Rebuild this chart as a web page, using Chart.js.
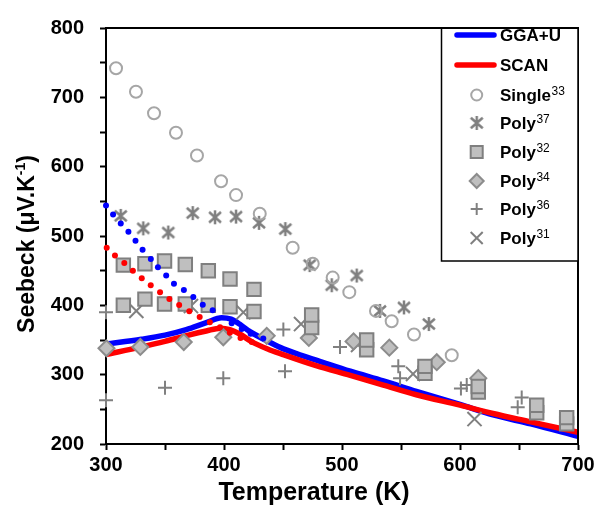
<!DOCTYPE html>
<html>
<head>
<meta charset="utf-8">
<script src="https://cdn.jsdelivr.net/npm/chart.js@4.4.1/dist/chart.umd.min.js"></script>
<style>
  html, body { margin: 0; padding: 0; background: #fff; }
</style>
</head>
<body>
<canvas id="seebeckChart" width="599" height="507"></canvas>
<script>
/* ---------- calculated curves ---------- */
const ggaT = [300, 330, 350, 368, 385, 398, 406, 414, 422, 435, 448, 462, 480, 507, 535, 563, 600, 628, 660, 700];
const ggaS = [344, 351, 357, 365, 375, 382, 380, 372, 362, 350, 339, 330, 320, 305, 291, 276, 257, 242, 229, 211];

const scanT = [300, 330, 350, 370, 385, 397, 405, 413, 423, 437, 450, 478, 507, 535, 563, 600, 628, 660, 700];
const scanS = [329, 340, 348, 357, 363, 367, 365, 359, 348, 337, 329, 313, 299, 285, 271, 256, 244, 232, 217];

// dotted branches
const ggaDotT = [300, 306, 312.5, 319, 325, 331, 338, 344, 351, 357.6, 366, 374, 382, 390.4, 406.5, 415, 422.6, 433.3];
const ggaDotS = [544, 531, 518, 506, 493, 480, 467, 455, 443, 431, 422, 412, 401, 393, 374, 366, 359, 352];

const scanDotT = [300.6, 307.6, 315.5, 322.8, 330.3, 337.9, 345.8, 353.7, 362, 370.6, 379.4, 388, 396.6, 405, 414, 423.5];
const scanDotS = [483, 472, 461, 450, 439, 429, 419, 409, 400.5, 391.5, 383, 375.5, 368.5, 360.5, 353, 347];

/* ---------- experimental data ---------- */
const single33T = [308.5, 325.4, 340.7, 359.3, 377.1, 397.5, 410.2, 430.3, 458.2, 475.2, 492.1, 506.2, 528.8, 542.1, 561, 593];
const single33S = [742, 708, 677, 649, 616, 579, 559, 532, 483, 460, 440, 419, 392, 377, 358, 328];

const poly37T = [312.5, 331.6, 352.8, 373.5, 392.4, 410.2, 429.7, 452, 472.6, 491.3, 512.5, 532.2, 552.5, 573.6];
const poly37S = [529, 511, 505, 533, 527, 528, 519, 510, 458, 429, 443, 392, 397, 373];

const poly32T  = [314.7, 333, 349.6, 367.2, 386.7, 405.1, 425.4, 474.3, 520.9, 570.3, 615.5, 665, 690.4];
const poly32aS = [458, 460, 464, 459, 450, 438, 423, 386, 350, 312, 283, 256, 238];
const poly32bS = [400, 409, 402, 402, 400, 398, 391, 368, 336, 302, 275, 245, 229];

const poly34T = [300.4, 329.1, 365.9, 399.4, 436.2, 471.9, 509.8, 540.1, 580.3, 615.5];
const poly34S = [338, 340, 347, 354, 356, 353, 348, 339, 318, 295];

const poly36T = [300, 300, 350, 350, 399.4, 450.3, 451.7, 498.3, 547.7, 549.2, 600.8, 605.7, 652.3, 648.9];
const poly36S = [390, 263, 281, 402, 295, 365, 305, 340, 312, 295, 280, 285, 267, 253];

const poly31T = [325.7, 372, 416.4, 465.3, 513.6, 560.2, 612.3];
const poly31S = [392, 399, 390, 373, 343, 301, 236];

/* ---------- axes ---------- */
const xMin = 300, xMax = 700, xStep = 50;
const yMin = 200, yMax = 800, yStep = 50;

const FONT = "'Liberation Sans', Arial, sans-serif";
const zip = (xs, ys) => xs.map((x, i) => ({ x, y: ys[i] }));

// Excel style asterisk: an X with a vertical bar
function makeAsterisk(size, color, lw) {
  const c = document.createElement('canvas');
  c.width = c.height = size;
  const g = c.getContext('2d');
  const m = size / 2, r = size / 2 - 2;
  g.strokeStyle = color;
  g.lineWidth = lw;
  g.beginPath();
  g.moveTo(m, m - r); g.lineTo(m, m + r);
  g.moveTo(m - r * 0.85, m - r * 0.75); g.lineTo(m + r * 0.85, m + r * 0.75);
  g.moveTo(m + r * 0.85, m - r * 0.75); g.lineTo(m - r * 0.85, m + r * 0.75);
  g.stroke();
  return c;
}
const asterisk = makeAsterisk(18, '#7F7F7F', 2.5);

const MARK = {
  single: { pointStyle: 'circle', radius: 6, bg: 'rgba(0,0,0,0)', border: '#A6A6A6', bw: 2 },
  p37:    { pointStyle: asterisk, radius: 8, bg: '#7F7F7F', border: '#7F7F7F', bw: 2 },
  p32:    { pointStyle: 'rect', radius: 9.5, bg: '#BFBFBF', border: '#7F7F7F', bw: 2 },
  p34:    { pointStyle: 'rectRot', radius: 8, bg: '#BFBFBF', border: '#8C8C8C', bw: 2 },
  p36:    { pointStyle: 'cross', radius: 7, bg: '#808080', border: '#808080', bw: 2 },
  p31:    { pointStyle: 'crossRot', radius: 10, bg: '#808080', border: '#808080', bw: 2 },
};

function markerSet(label, T, S, m, order) {
  return {
    label, data: zip(T, S), showLine: false, order, clip: false,
    pointStyle: m.pointStyle, pointRadius: m.radius, pointHoverRadius: m.radius,
    pointBackgroundColor: m.bg, pointBorderColor: m.border, pointBorderWidth: m.bw,
  };
}
function curveSet(label, T, S, color, order) {
  return {
    label, data: zip(T, S), showLine: true, order, clip: false,
    borderColor: color, borderWidth: 5.5, pointRadius: 0,
    cubicInterpolationMode: 'monotone', fill: false,
  };
}
function dotSet(label, T, S, color, order) {
  return {
    label, data: zip(T, S), showLine: false, order, clip: false,
    pointStyle: 'circle', pointRadius: 3, pointBackgroundColor: color,
    pointBorderColor: color, pointBorderWidth: 0,
  };
}

/* ---------- text helpers ---------- */
// parts: [text, size, weight, rise]
function drawRich(ctx, parts, cx, baseY) {
  let total = 0;
  const widths = parts.map(p => {
    ctx.font = `${p[2]} ${p[1]}px ${FONT}`;
    const w = ctx.measureText(p[0]).width;
    total += w;
    return w;
  });
  let x = cx - total / 2;
  ctx.textAlign = 'left';
  ctx.textBaseline = 'alphabetic';
  parts.forEach((p, i) => {
    ctx.font = `${p[2]} ${p[1]}px ${FONT}`;
    ctx.fillText(p[0], x, baseY - p[3]);
    x += widths[i];
  });
}

/* ---------- frame, titles, legend ---------- */
const legendRows = [
  { kind: 'line', color: '#0000FF', name: 'GGA+U', sup: '' },
  { kind: 'line', color: '#FF0000', name: 'SCAN', sup: '' },
  { kind: 'mark', m: MARK.single, r: 5.5, name: 'Single', sup: '33' },
  { kind: 'mark', m: MARK.p37, r: 8, name: 'Poly', sup: '37' },
  { kind: 'mark', m: MARK.p32, r: 8.5, name: 'Poly', sup: '32' },
  { kind: 'mark', m: MARK.p34, r: 7, name: 'Poly', sup: '34' },
  { kind: 'mark', m: MARK.p36, r: 6, name: 'Poly', sup: '36' },
  { kind: 'mark', m: MARK.p31, r: 8.5, name: 'Poly', sup: '31' },
];

const decorations = {
  id: 'decorations',
  afterDraw(chart) {
    const ctx = chart.ctx;
    const a = chart.chartArea;
    ctx.save();

    // top and right edges of the plot box
    ctx.strokeStyle = '#000';
    ctx.lineWidth = 2;
    ctx.beginPath();
    ctx.moveTo(a.left, a.top);
    ctx.lineTo(a.right, a.top);
    ctx.lineTo(a.right, a.bottom);
    ctx.stroke();

    // axis titles
    ctx.fillStyle = '#000';
    drawRich(ctx, [['Temperature (K)', 25, 'bold', 0]], 314, 500);
    ctx.save();
    ctx.translate(33.5, 244);
    ctx.rotate(-Math.PI / 2);
    drawRich(ctx, [['Seebeck (\u03bcV.K', 23, 'bold', 0], ['-1', 14, 'bold', 9], [')', 23, 'bold', 0]], 0, 0);
    ctx.restore();

    // legend box
    const lx = 441.5, ly = a.top, lw = a.right - lx, lh = 233;
    ctx.fillStyle = '#fff';
    ctx.fillRect(lx, ly, lw, lh);
    ctx.strokeStyle = '#000';
    ctx.lineWidth = 1.5;
    ctx.strokeRect(lx, ly, lw, lh);
    ctx.lineWidth = 2;
    ctx.beginPath();
    ctx.moveTo(lx, ly); ctx.lineTo(a.right, ly);
    ctx.stroke();

    const rowY = [35, 65, 95, 123, 152, 181, 209, 238];
    legendRows.forEach((row, i) => {
      const y = rowY[i];
      if (row.kind === 'line') {
        ctx.strokeStyle = row.color;
        ctx.lineWidth = 5.5;
        ctx.lineCap = 'round';
        ctx.beginPath();
        ctx.moveTo(457, y); ctx.lineTo(494, y);
        ctx.stroke();
        ctx.lineCap = 'butt';
      } else {
        ctx.fillStyle = row.m.bg;
        ctx.strokeStyle = row.m.border;
        ctx.lineWidth = row.m.bw;
        Chart.helpers.drawPoint(ctx, { pointStyle: row.m.pointStyle, radius: row.r, rotation: 0, borderWidth: row.m.bw }, 476.7, y);
      }
      ctx.fillStyle = '#000';
      ctx.textAlign = 'left';
      ctx.textBaseline = 'alphabetic';
      ctx.font = `bold 17px ${FONT}`;
      ctx.fillText(row.name, 500, y + 6);
      if (row.sup) {
        const w = ctx.measureText(row.name).width;
        ctx.font = `12px ${FONT}`;
        ctx.fillText(row.sup, 500 + w + 0.5, y);
      }
    });

    ctx.restore();
  }
};

/* ---------- chart ---------- */
const axisCommon = {
  type: 'linear',
  grid: { display: true, drawOnChartArea: false, drawTicks: true, tickLength: 6, tickWidth: 2, tickColor: '#000' },
  border: { display: true, color: '#000', width: 2 },
};

// lower order is painted last (on top): dots > markers > red > blue
new Chart(document.getElementById('seebeckChart'), {
  type: 'scatter',
  data: {
    datasets: [
      dotSet('GGA+U dotted', ggaDotT, ggaDotS, '#0000FF', 0),
      dotSet('SCAN dotted', scanDotT, scanDotS, '#FF0000', 0),
      markerSet('Single33', single33T, single33S, MARK.single, 1),
      markerSet('Poly37', poly37T, poly37S, MARK.p37, 1),
      markerSet('Poly32', poly32T, poly32aS, MARK.p32, 1),
      markerSet('Poly32', poly32T, poly32bS, MARK.p32, 1),
      markerSet('Poly34', poly34T, poly34S, MARK.p34, 1),
      markerSet('Poly36', poly36T, poly36S, MARK.p36, 1),
      markerSet('Poly31', poly31T, poly31S, MARK.p31, 1),
      curveSet('SCAN', scanT, scanS, '#FF0000', 3),
      curveSet('GGA+U', ggaT, ggaS, '#0000FF', 4),
    ],
  },
  options: {
    responsive: false,
    animation: false,
    layout: { padding: { left: 0, right: 21, top: 20, bottom: 0 } },
    plugins: { legend: { display: false }, tooltip: { enabled: false } },
    scales: {
      x: {
        ...axisCommon,
        min: xMin, max: xMax,
        afterFit(s) { s.height = 63; },
        ticks: {
          stepSize: xStep, autoSkip: false, maxRotation: 0, padding: 3, color: '#000',
          font: { family: FONT, size: 20, weight: 'bold' },
          callback: v => (v % 100 === 0 ? v : ''),
        },
      },
      y: {
        ...axisCommon,
        min: yMin, max: yMax,
        afterFit(s) { s.width = 106; },
        ticks: {
          stepSize: yStep, autoSkip: false, padding: 16, color: '#000',
          font: { family: FONT, size: 20, weight: 'bold' },
          callback: v => (v % 100 === 0 ? v : ''),
        },
      },
    },
  },
  plugins: [decorations],
});
</script>
</body>
</html>
